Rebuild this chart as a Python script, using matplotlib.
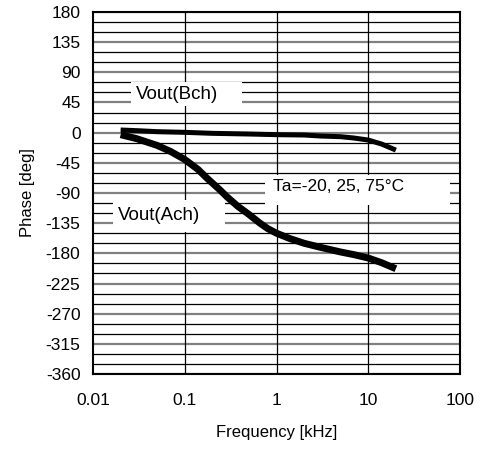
import matplotlib
matplotlib.use('Agg')
import matplotlib.pyplot as plt
from matplotlib.patches import Rectangle
import numpy as np

plt.rcParams['font.family'] = ['Liberation Sans', 'DejaVu Sans']
plt.rcParams['axes.unicode_minus'] = False

# frequency [kHz] and phase [deg]
freq_a = [0.02, 0.03, 0.05, 0.07, 0.1, 0.14, 0.175, 0.24, 0.29, 0.38, 0.49,
          0.66, 0.8, 1, 1.4, 2, 3, 5, 7, 10, 14, 20]
phase_a = [-3, -9, -19, -28, -40, -55, -68, -85, -96, -110, -121,
           -135, -143, -150, -158, -165, -171, -178, -182, -187, -194, -203]
freq_b = [0.02, 0.03, 0.05, 0.1, 0.2, 0.5, 1, 2, 3, 5, 7, 10, 14, 20]
phase_b = [4, 3, 1.5, 0.5, -1, -2, -3, -3.5, -5, -6, -8, -11, -17, -26]

xticks = [0.01, 0.1, 1, 10, 100]
xticklabels = ['0.01', '0.1', '1', '10', '100']
yticks = np.arange(-360, 181, 45)

fig = plt.figure(figsize=(4.84, 4.5), dpi=100)
ax = fig.add_axes([93/484, 1-374/450, (460-93)/484, (374-12)/450])

ax.set_xscale('log')
ax.set_xlim(0.01, 100)
ax.set_ylim(-360, 180)

# horizontal grid: thin black every 15, grey at 45
for y in np.arange(-360, 181, 15):
    if y % 45 == 0:
        ax.axhline(y, color='#808080', lw=1.6, zorder=1)
    else:
        ax.axhline(y, color='black', lw=0.9, zorder=1)
for x in xticks[1:-1]:
    ax.axvline(x, color='black', lw=0.9, zorder=1)

ax.plot(freq_a, phase_a, color='black', lw=5, solid_capstyle='butt',
        solid_joinstyle='round', zorder=3)
ax.plot(freq_b, phase_b, color='black', lw=3.6, solid_capstyle='butt',
        solid_joinstyle='round', zorder=3)

# label boxes (x0, x1, y0, y1), text anchor, text
labels = [
    ((0.026, 0.42, 39.8, 75.6), (0.0294, 57), 'Vout(Bch)', 13.5),
    ((0.0165, 0.275, -148, -100.4), (0.0187, -123), 'Vout(Ach)', 13.5),
    ((0.75, 77.8, -108, -63), (0.917, -81), 'Ta=-20, 25, 75°C', 12.5),
]
for (x0, x1, y0, y1), (tx, ty), txt, fs in labels:
    ax.add_patch(Rectangle((x0, y0), x1 - x0, y1 - y0, facecolor='white',
                           edgecolor='none', zorder=4))
    ax.text(tx, ty, txt, fontsize=fs, ha='left', va='center', zorder=5)

ax.set_xticks(xticks)
ax.set_xticklabels(xticklabels)
ax.set_yticks(yticks)
ax.minorticks_off()
ax.tick_params(axis='both', length=0, labelsize=12.5)
ax.tick_params(axis='x', pad=14)
ax.tick_params(axis='y', pad=9)

for s in ax.spines.values():
    s.set_linewidth(1.5)
    s.set_zorder(6)

ax.set_xlabel('Frequency [kHz]', fontsize=12, labelpad=12)
ax.set_ylabel('Phase [deg]', fontsize=12, labelpad=8)

fig.savefig('out.png', dpi=100)
